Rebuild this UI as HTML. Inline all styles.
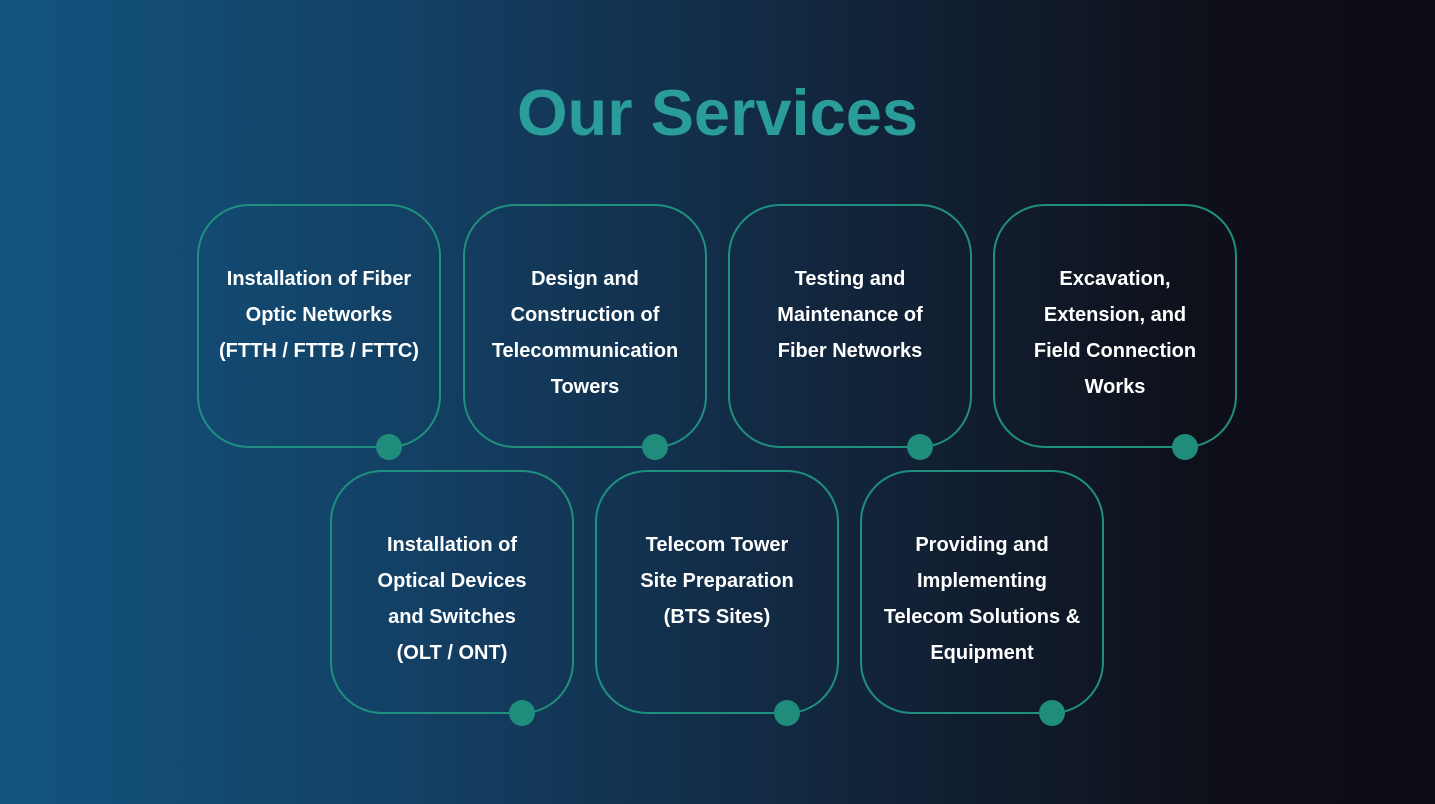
<!DOCTYPE html>
<html><head><style>
html,body{margin:0;padding:0}
body{width:1435px;height:804px;overflow:hidden;position:relative;font-family:"Liberation Sans",sans-serif;
background:linear-gradient(90deg,#13547f 0%,#133f63 30%,#12243a 60%,#0e0f18 85%,#0c0c14 100%)}
h1{position:absolute;top:70px;left:0;width:1435px;text-align:center;margin:0;font-size:65px;font-weight:bold;color:#2a9d9a;line-height:86px}
.c{position:absolute;width:244px;height:244px;border:2.5px solid #1f8f7e;border-radius:52px;box-sizing:border-box;color:#fff;font-weight:bold;font-size:20px;line-height:36px;text-align:center;padding-top:55px}
.c:after{content:"";position:absolute;width:26px;height:26px;border-radius:50%;background:#1f8c7c;left:177px;bottom:-14px}
</style></head><body>
<h1>Our Services</h1>
<div class="c" style="left:197px;top:204px">Installation of Fiber<br>Optic Networks<br>(FTTH / FTTB / FTTC)</div>
<div class="c" style="left:463px;top:204px">Design and<br>Construction of<br>Telecommunication<br>Towers</div>
<div class="c" style="left:728px;top:204px">Testing and<br>Maintenance of<br>Fiber Networks</div>
<div class="c" style="left:993px;top:204px">Excavation,<br>Extension, and<br>Field Connection<br>Works</div>
<div class="c" style="left:330px;top:470px">Installation of<br>Optical Devices<br>and Switches<br>(OLT / ONT)</div>
<div class="c" style="left:595px;top:470px">Telecom Tower<br>Site Preparation<br>(BTS Sites)</div>
<div class="c" style="left:860px;top:470px">Providing and<br>Implementing<br>Telecom Solutions &amp;<br>Equipment</div>
</body></html>
